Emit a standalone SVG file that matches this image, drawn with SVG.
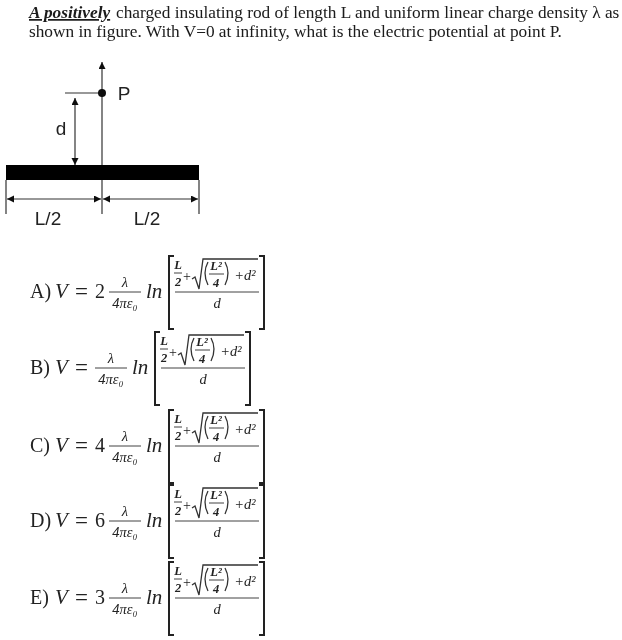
<svg xmlns="http://www.w3.org/2000/svg" width="622" height="640" viewBox="0 0 622 640">
<style>
.t{font-family:"Liberation Serif",serif;font-size:17.3px;fill:#1a1a1a}
.s{font-family:"Liberation Sans",sans-serif;font-size:19px;fill:#222;text-anchor:middle}
.l{font-family:"Liberation Serif",serif;font-size:20px;fill:#222}
.e{font-size:23px}
.m{font-family:"Liberation Serif",serif;font-style:italic;fill:#222}
.v{font-size:21px}.f{font-size:14.5px;text-anchor:middle}.g{font-size:12.5px;text-anchor:middle;font-weight:bold}
.p{font-family:"Liberation Serif",serif;font-size:14px;fill:#222;text-anchor:middle}
.k{stroke:#333;stroke-width:1.2;fill:none}
.b{stroke:#222;stroke-width:2;fill:none}
.h{stroke:#444;stroke-width:1;fill:none}
.r{stroke:#333;stroke-width:1.3;fill:none}
</style>
<defs>
<filter id="blur" x="-2%" y="-2%" width="104%" height="104%"><feGaussianBlur stdDeviation="0.35"/></filter>
<marker id="ah" markerWidth="8" markerHeight="8" refX="7" refY="3.5" orient="auto-start-reverse" markerUnits="userSpaceOnUse"><path d="M0 0L7 3.5L0 7z" fill="#111"/></marker>
</defs>
<rect width="622" height="640" fill="#fff"/>
<g filter="url(#blur)">
<g id="question">
<text class="t" x="29" y="18" font-weight="bold" font-style="italic" text-decoration="underline">A positively</text>
<text class="t" x="116" y="18">charged insulating rod of length L and uniform linear charge density λ as</text>
<text class="t" x="29" y="37">shown in figure. With V=0 at infinity, what is the electric potential at point P.</text>
</g>
<g id="connectors">
<path class="k" d="M102 214V62" marker-end="url(#ah)"/>
<path class="k" d="M65 93H102"/>
<path class="k" d="M75 98V165" marker-start="url(#ah)" marker-end="url(#ah)"/>
<path class="k" d="M6 180V214M199 180V214"/>
<path class="k" d="M7 199H101" marker-start="url(#ah)" marker-end="url(#ah)"/>
<path class="k" d="M103 199H198" marker-start="url(#ah)" marker-end="url(#ah)"/>
</g>
<g id="rod"><rect x="6" y="165" width="193" height="15" fill="#000"/></g>
<g id="point-p"><circle cx="102" cy="93" r="4" fill="#111"/><text class="s" x="124" y="100">P</text></g>
<g id="label-d"><text class="s" x="61" y="135">d</text></g>
<g id="label-l1"><text class="s" x="48" y="225">L/2</text></g>
<g id="label-l2"><text class="s" x="147" y="225">L/2</text></g>

<g id="option-a" transform="translate(0,0)">
<text class="l" x="30" y="298">A)</text><text class="m v" x="55" y="298">V</text><text class="l e" x="75" y="299">=</text><text class="l" x="95" y="298">2</text>
<text class="m f" x="125" y="287">λ</text><path class="h" d="M109 292H141"/><text class="m f" x="125" y="308">4πε₀</text>
<text class="m v" x="146" y="298">ln</text>
<g><path class="b" d="M174 256H169V329H174M259 256H264V329H259"/>
<text class="m g" x="178" y="269">L</text><path class="h" d="M174 273H182"/><text class="m g" x="178" y="286">2</text><text class="p" x="187" y="281">+</text>
<path class="r" d="M192 279L195 277L199 289L203 259H258"/><path class="r" d="M208 262Q202 273 208 285M225 262Q231 273 225 285"/>
<text class="m g" x="216" y="270">L²</text><path class="h" d="M209 274H224"/><text class="m g" x="216" y="287">4</text>
<text class="m f" x="245" y="280">+d²</text><path class="h" d="M175 292H259"/><text class="m f" x="217" y="308">d</text></g>
</g>

<g id="option-b" transform="translate(0,76)">
<text class="l" x="30" y="298">B)</text><text class="m v" x="55" y="298">V</text><text class="l e" x="75" y="299">=</text>
<text class="m f" x="111" y="287">λ</text><path class="h" d="M95 292H127"/><text class="m f" x="111" y="308">4πε₀</text>
<text class="m v" x="132" y="298">ln</text>
<g transform="translate(-14,0)"><path class="b" d="M174 256H169V329H174M259 256H264V329H259"/>
<text class="m g" x="178" y="269">L</text><path class="h" d="M174 273H182"/><text class="m g" x="178" y="286">2</text><text class="p" x="187" y="281">+</text>
<path class="r" d="M192 279L195 277L199 289L203 259H258"/><path class="r" d="M208 262Q202 273 208 285M225 262Q231 273 225 285"/>
<text class="m g" x="216" y="270">L²</text><path class="h" d="M209 274H224"/><text class="m g" x="216" y="287">4</text>
<text class="m f" x="245" y="280">+d²</text><path class="h" d="M175 292H259"/><text class="m f" x="217" y="308">d</text></g>
</g>

<g id="option-c" transform="translate(0,154)">
<text class="l" x="30" y="298">C)</text><text class="m v" x="55" y="298">V</text><text class="l e" x="75" y="299">=</text><text class="l" x="95" y="298">4</text>
<text class="m f" x="125" y="287">λ</text><path class="h" d="M109 292H141"/><text class="m f" x="125" y="308">4πε₀</text>
<text class="m v" x="146" y="298">ln</text>
<g><path class="b" d="M174 256H169V329H174M259 256H264V329H259"/>
<text class="m g" x="178" y="269">L</text><path class="h" d="M174 273H182"/><text class="m g" x="178" y="286">2</text><text class="p" x="187" y="281">+</text>
<path class="r" d="M192 279L195 277L199 289L203 259H258"/><path class="r" d="M208 262Q202 273 208 285M225 262Q231 273 225 285"/>
<text class="m g" x="216" y="270">L²</text><path class="h" d="M209 274H224"/><text class="m g" x="216" y="287">4</text>
<text class="m f" x="245" y="280">+d²</text><path class="h" d="M175 292H259"/><text class="m f" x="217" y="308">d</text></g>
</g>

<g id="option-d" transform="translate(0,229)">
<text class="l" x="30" y="298">D)</text><text class="m v" x="55" y="298">V</text><text class="l e" x="75" y="299">=</text><text class="l" x="95" y="298">6</text>
<text class="m f" x="125" y="287">λ</text><path class="h" d="M109 292H141"/><text class="m f" x="125" y="308">4πε₀</text>
<text class="m v" x="146" y="298">ln</text>
<g><path class="b" d="M174 256H169V329H174M259 256H264V329H259"/>
<text class="m g" x="178" y="269">L</text><path class="h" d="M174 273H182"/><text class="m g" x="178" y="286">2</text><text class="p" x="187" y="281">+</text>
<path class="r" d="M192 279L195 277L199 289L203 259H258"/><path class="r" d="M208 262Q202 273 208 285M225 262Q231 273 225 285"/>
<text class="m g" x="216" y="270">L²</text><path class="h" d="M209 274H224"/><text class="m g" x="216" y="287">4</text>
<text class="m f" x="245" y="280">+d²</text><path class="h" d="M175 292H259"/><text class="m f" x="217" y="308">d</text></g>
</g>

<g id="option-e" transform="translate(0,306)">
<text class="l" x="30" y="298">E)</text><text class="m v" x="55" y="298">V</text><text class="l e" x="75" y="299">=</text><text class="l" x="95" y="298">3</text>
<text class="m f" x="125" y="287">λ</text><path class="h" d="M109 292H141"/><text class="m f" x="125" y="308">4πε₀</text>
<text class="m v" x="146" y="298">ln</text>
<g><path class="b" d="M174 256H169V329H174M259 256H264V329H259"/>
<text class="m g" x="178" y="269">L</text><path class="h" d="M174 273H182"/><text class="m g" x="178" y="286">2</text><text class="p" x="187" y="281">+</text>
<path class="r" d="M192 279L195 277L199 289L203 259H258"/><path class="r" d="M208 262Q202 273 208 285M225 262Q231 273 225 285"/>
<text class="m g" x="216" y="270">L²</text><path class="h" d="M209 274H224"/><text class="m g" x="216" y="287">4</text>
<text class="m f" x="245" y="280">+d²</text><path class="h" d="M175 292H259"/><text class="m f" x="217" y="308">d</text></g>
</g>
</g>
</svg>
